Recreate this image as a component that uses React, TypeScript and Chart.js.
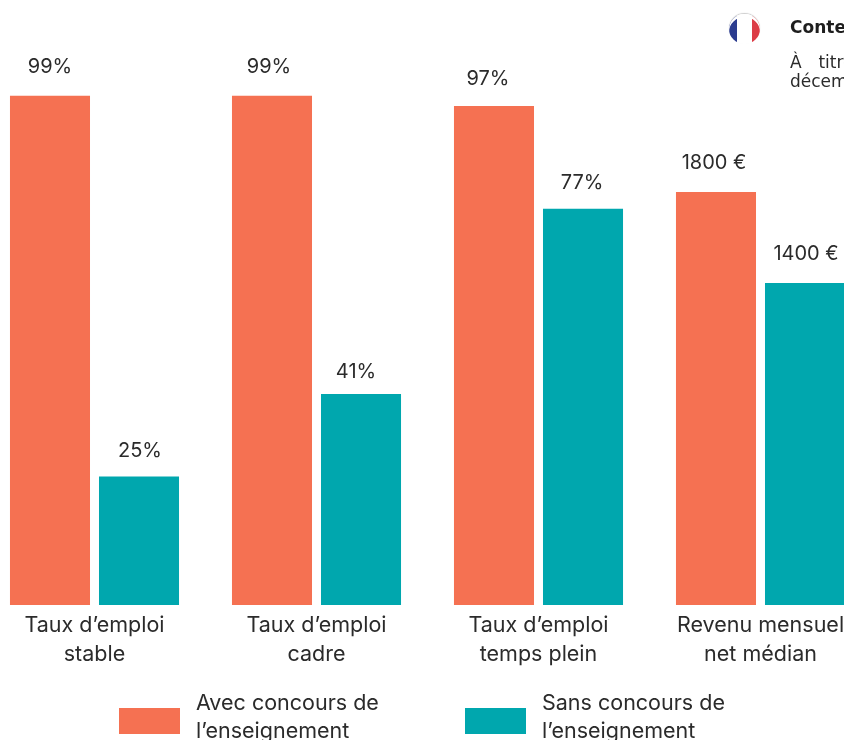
import React, { useEffect, useRef } from "react";
import { Chart, registerables } from "chart.js";

Chart.register(...registerables);

const categories = [["Taux d’emploi", "stable"], ["Taux d’emploi", "cadre"], ["Taux d’emploi", "temps plein"], ["Revenu mensuel", "net médian"]];
const avecValues = [99, 99, 97, 80.3];
const sansValues = [25, 41, 77, 62.6];
const avecLabels = ["99%", "99%", "97%", "1800 €"];
const sansLabels = ["25%", "41%", "77%", "1400 €"];
const avecName = "Avec concours de l’enseignement";
const sansName = "Sans concours de l’enseignement";
const ORANGE = "#F57152";
const TEAL = "#00A7AE";
const FONT = "Inter, sans-serif";
const SIDE_FONT = "'DejaVu Sans', sans-serif";
const TEXT = "#2b2b2b";
const avecLift = [29, 29, 27, 29];
const sansLift = [25, 22, 26, 29];
const avecNudge = [0, -3, -6, -2];
const sansNudge = [1, -5, -1, 1];

const valueLabels = {
  id: "valueLabels",
  afterDatasetsDraw(chart: any) {
    const { ctx } = chart;
    ctx.save();
    ctx.font = `20px ${FONT}`;
    ctx.fillStyle = TEXT;
    ctx.textAlign = "center";
    ctx.textBaseline = "middle";
    [avecLabels, sansLabels].forEach((labels, d) => {
      const lift = d === 0 ? avecLift : sansLift;
      const nudge = d === 0 ? avecNudge : sansNudge;
      chart.getDatasetMeta(d).data.forEach((el: any, i: number) => {
        ctx.fillText(labels[i], el.x + nudge[i], el.y - lift[i]);
      });
    });
    ctx.restore();
  },
};

export default function App() {
  const ref = useRef<HTMLCanvasElement>(null);
  useEffect(() => {
    document.body.style.margin = "0";
    const chart = new Chart(ref.current!, {
      type: "bar",
      data: {
        labels: categories,
        datasets: [
          { label: avecName, data: avecValues, backgroundColor: ORANGE },
          { label: sansName, data: sansValues, backgroundColor: TEAL },
        ],
      },
      plugins: [valueLabels],
      options: {
        animation: false,
        responsive: false,
        layout: { padding: { left: 0.5, right: 0.5 } },
        datasets: { bar: { categoryPercentage: 0.802, barPercentage: 0.899 } } as any,
        plugins: { legend: { display: false }, tooltip: { enabled: false } },
        scales: {
          x: {
            grid: { display: false },
            border: { display: false },
            afterFit: (scale: any) => { scale.height = 95; },
            ticks: { color: TEXT, font: { family: FONT, size: 21.5, lineHeight: 1.35 }, maxRotation: 0, autoSkip: false, padding: -2 },
          },
          y: { display: false, min: 0, max: 117.6 },
        },
      },
    });
    return () => chart.destroy();
  }, []);

  const legendText: React.CSSProperties = { position: "absolute", top: 688, fontFamily: FONT, fontSize: 21.5, lineHeight: "28px", color: TEXT, whiteSpace: "nowrap" };
  return (
    <div style={{ position: "relative", width: 844, height: 740, overflow: "hidden", background: "#fff" }}>
      <canvas ref={ref} width={889} height={700} style={{ position: "absolute", left: -17, top: 0, width: 889, height: 700 }} />
      <div style={{ position: "absolute", left: 119, top: 708, width: 61, height: 26, background: ORANGE }} />
      <div style={{ ...legendText, left: 196 }}>Avec concours de<br />l’enseignement</div>
      <div style={{ position: "absolute", left: 465, top: 708, width: 61, height: 26, background: TEAL }} />
      <div style={{ ...legendText, left: 542 }}>Sans concours de<br />l’enseignement</div>
      <div style={{ position: "absolute", left: 729, top: 14, width: 31, height: 30, borderRadius: "50%", background: "linear-gradient(90deg,#2B3C8F 0 25%,#fff 25% 74%,#DC3C46 74% 100%)", boxShadow: "inset 0 3px 0 #fff, 0 -1px 1px #ccc" }} />
      <div style={{ position: "absolute", left: 790, top: 17, fontFamily: SIDE_FONT, fontSize: 17, fontWeight: 700, color: "#1e1e1e", whiteSpace: "nowrap" }}>Contexte</div>
      <div style={{ position: "absolute", left: 790, top: 53, fontFamily: SIDE_FONT, fontSize: 17, lineHeight: "19px", color: TEXT, whiteSpace: "nowrap", wordSpacing: 3 }}>À &nbsp;titre<br />décembre</div>
    </div>
  );
}
